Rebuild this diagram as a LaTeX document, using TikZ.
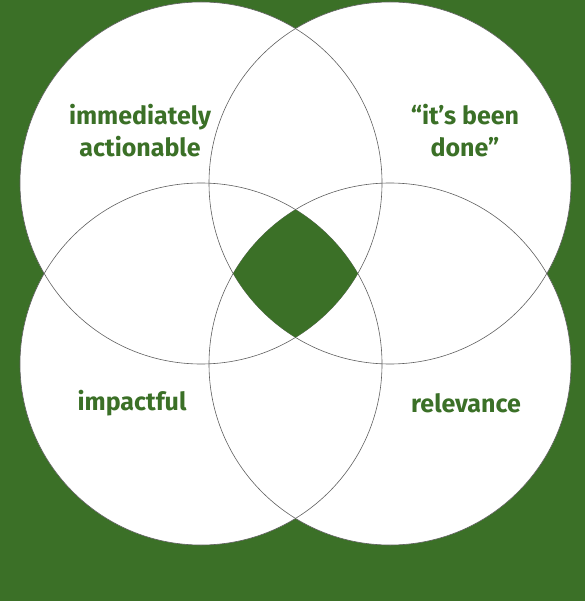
\documentclass[tikz,border=0pt]{standalone}
\usepackage{fontspec}
\setmainfont{Fira Sans}
\definecolor{leafgreen}{RGB}{59,112,39}
\tikzset{
  venn/.style={draw=gray!75!black, line width=0.6pt},
  tag/.style={text=leafgreen, align=center, font=\fontsize{25}{32}\selectfont\bfseries}
}

\begin{document}
\begin{tikzpicture}[x=1pt,y=-1pt]
\fill[leafgreen] (0,0) rectangle (585,601);
\useasboundingbox (0,0) rectangle (585,601);

% the four sets
\fill[white] (201,183) circle (181pt);
\fill[white] (390,183) circle (181pt);
\fill[white] (201,364) circle (181pt);
\fill[white] (390,364) circle (181pt);
\draw[venn] (201,183) circle (181pt);
\draw[venn] (390,183) circle (181pt);
\draw[venn] (201,364) circle (181pt);
\draw[venn] (390,364) circle (181pt);

% where all four meet
\begin{scope}
\clip (201,183) circle (181pt);
\clip (390,183) circle (181pt);
\clip (201,364) circle (181pt);
\clip (390,364) circle (181pt);
\fill[leafgreen] (200,200) rectangle (390,350);
\end{scope}

\node[tag] (actionable) at (140,131) {immediately\\actionable};
\node[tag] (done) at (465,131) {“it’s been\\done”};
\node[tag] (impactful) at (132,403) {impactful};
\node[tag] (relevance) at (466,403) {relevance};
\end{tikzpicture}
\end{document}
